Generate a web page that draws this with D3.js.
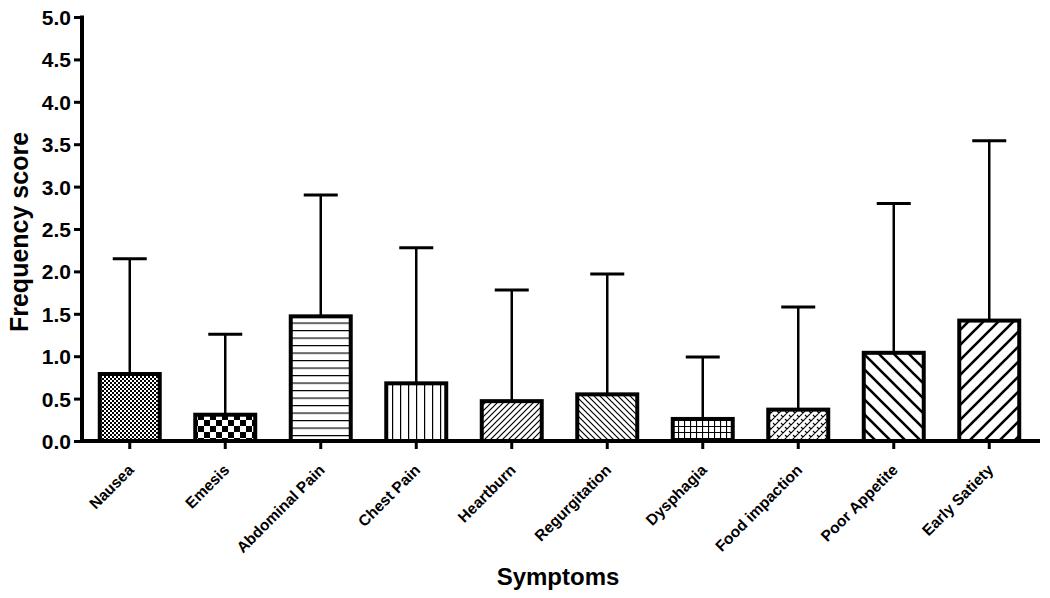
<!DOCTYPE html>
<html><head><meta charset="utf-8">
<script src="https://cdn.jsdelivr.net/npm/d3@7"></script>
<style>body{margin:0;background:#fff}svg{display:block}</style>
</head><body>
<svg id="c" width="1050" height="598"></svg>
<script>
const categories = ["Nausea","Emesis","Abdominal Pain","Chest Pain","Heartburn","Regurgitation","Dysphagia","Food impaction","Poor Appetite","Early Satiety"];
const means = [0.79,0.31,1.47,0.68,0.47,0.55,0.26,0.37,1.04,1.42];
const errTops = [2.15,1.26,2.90,2.28,1.78,1.97,0.99,1.58,2.80,3.54];
const yTicks = [0,0.5,1,1.5,2,2.5,3,3.5,4,4.5,5];
const patterns = ["fineCheck","bigCheck","hLines","vLines","diagUp","diagDown","grid","brick","wideDown","wideUp"];

const svg = d3.select("#c");
const font = "'Liberation Sans', Arial, sans-serif";
const x0 = 82, x1 = 1037, yTop = 17, yBot = 441;
const x = d3.scaleBand().domain(categories).range([x0, x1]).paddingInner(0.33).paddingOuter(0.165);
const y = d3.scaleLinear().domain([0,5]).range([yBot, yTop]);

// patterns
const defs = svg.append("defs");
function pat(id, w, h, draw){ const p = defs.append("pattern").attr("id",id).attr("patternUnits","userSpaceOnUse").attr("width",w).attr("height",h); p.append("rect").attr("width",w).attr("height",h).attr("fill","#fff"); draw(p); }
pat("fineCheck",4,4,p=>{p.append("rect").attr("width",2).attr("height",2).attr("fill","#000");p.append("rect").attr("x",2).attr("y",2).attr("width",2).attr("height",2).attr("fill","#000");});
pat("bigCheck",12,12,p=>{p.append("rect").attr("width",6).attr("height",6).attr("fill","#000");p.append("rect").attr("x",6).attr("y",6).attr("width",6).attr("height",6).attr("fill","#000");});
pat("hLines",8,7.5,p=>{p.append("line").attr("x1",0).attr("x2",8).attr("y1",0.6).attr("y2",0.6).attr("stroke","#000").attr("stroke-width",1.2);});
pat("vLines",8,8,p=>{p.append("line").attr("y1",0).attr("y2",8).attr("x1",0.6).attr("x2",0.6).attr("stroke","#000").attr("stroke-width",1.2);});
pat("grid",6,6,p=>{p.append("path").attr("d","M0,0.5H6M0.5,0V6").attr("stroke","#000").attr("stroke-width",1.2);});
function diag(id, s, sw, up){ pat(id,s,s,p=>{ const d = up ? `M0,${s}L${s},0M${-s/2},${s/2}L${s/2},${-s/2}M${s/2},${s*1.5}L${s*1.5},${s/2}` : `M0,0L${s},${s}M${-s/2},${s/2}L${s/2},${s*1.5}M${s/2},${-s/2}L${s*1.5},${s/2}`; p.append("path").attr("d",d).attr("stroke","#000").attr("stroke-width",sw);}); }
diag("diagUp",6,1.2,true); diag("diagDown",6,1.2,false);
diag("wideUp",15,2.6,true); diag("wideDown",15,2.6,false);
pat("brick",8,8,p=>{p.append("path").attr("d","M0,8L8,0M-4,4L4,-4M4,12L12,4M1,3L3,5M5,7L7,9M5,-1L7,1").attr("stroke","#000").attr("stroke-width",1.1);});

// error bars
const g = svg.append("g");
categories.forEach((c,i)=>{
  const cx = x(c) + x.bandwidth()/2;
  g.append("line").attr("x1",cx).attr("x2",cx).attr("y1",y(means[i])).attr("y2",y(errTops[i])).attr("stroke","#000").attr("stroke-width",2.5);
  g.append("line").attr("x1",cx-17).attr("x2",cx+17).attr("y1",y(errTops[i])).attr("y2",y(errTops[i])).attr("stroke","#000").attr("stroke-width",3);
});
// bars
g.selectAll("rect.bar").data(categories).join("rect").attr("class","bar")
  .attr("x",c=>x(c)+2).attr("width",x.bandwidth()-4)
  .attr("y",(c,i)=>y(means[i])).attr("height",(c,i)=>yBot-y(means[i]))
  .attr("fill",(c,i)=>`url(#${patterns[i]})`).attr("stroke","#000").attr("stroke-width",4);

// axes
const yAxis = svg.append("g").attr("transform",`translate(${x0},0)`).call(d3.axisLeft(y).tickValues(yTicks).tickFormat(d3.format(".1f")).tickSize(8).tickPadding(3));
yAxis.select(".domain").attr("stroke-width",4).attr("d",`M0,${yTop-1.5}V${yBot}`);
yAxis.selectAll(".tick line").attr("stroke-width",3);
yAxis.selectAll("text").attr("font-family",font).attr("font-weight","bold").attr("font-size",21).attr("fill","#000").attr("dy","0.36em");

const xAxis = svg.append("g").attr("transform",`translate(0,${yBot})`).call(d3.axisBottom(x).tickSize(8).tickSizeOuter(0));
xAxis.select(".domain").attr("stroke-width",4).attr("d",`M${x0-2},0H${x1+3}`);
xAxis.selectAll(".tick line").attr("stroke-width",3);
xAxis.selectAll("text").attr("font-family",font).attr("font-weight","bold").attr("font-size",15.5).attr("fill","#000")
  .attr("text-anchor","end").attr("dy",0).attr("y",0)
  .attr("transform","translate(5,30) rotate(-45)");

svg.append("text").attr("transform","translate(28,232) rotate(-90)").attr("text-anchor","middle")
  .attr("font-family",font).attr("font-weight","bold").attr("font-size",25).text("Frequency score");
svg.append("text").attr("x",558).attr("y",585).attr("text-anchor","middle")
  .attr("font-family",font).attr("font-weight","bold").attr("font-size",24).text("Symptoms");
</script>
</body></html>
